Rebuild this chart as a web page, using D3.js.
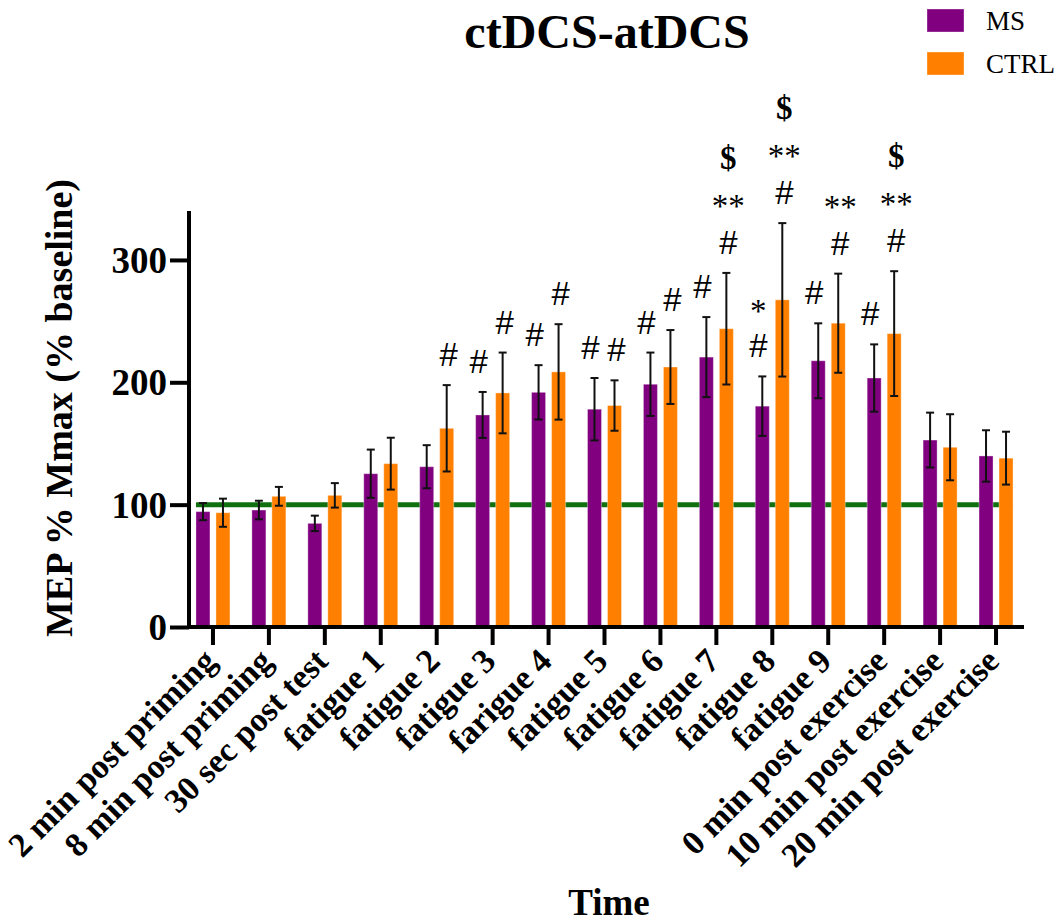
<!DOCTYPE html>
<html>
<head>
<meta charset="utf-8">
<script src="https://cdn.jsdelivr.net/npm/d3@7"></script>
<style>
  html, body { margin: 0; padding: 0; background: #fff; }
  svg { display: block; }
</style>
</head>
<body>
<script>
// ---- data ----
const categories = ["2 min post priming", "8 min post priming", "30 sec post test", "fatigue 1", "fatigue 2",
  "fatigue 3", "farigue 4", "fatigue 5", "fatigue 6", "fatigue 7", "fatigue 8", "fatigue 9",
  "0 min post exercise", "10 min post exercise", "20 min post exercise"];
const seriesNames = ["MS", "CTRL"];
const msMean   = [94.3, 95.6, 84.7, 125.3, 131.0, 173.3, 191.8, 178.0, 198.4, 220.6, 180.5, 217.6, 203.5, 152.8, 139.8];
const msSem    = [7.0, 7.6, 6.3, 19.7, 17.6, 18.8, 22.2, 25.5, 25.9, 32.7, 24.3, 30.6, 27.5, 22.4, 21.0];
const ctrlMean = [93.4, 106.8, 107.6, 133.5, 162.4, 191.3, 208.5, 181.0, 212.5, 243.8, 267.4, 248.3, 239.8, 146.9, 138.0];
const ctrlSem  = [11.5, 7.7, 10.0, 21.2, 35.3, 33.0, 39.0, 20.6, 30.2, 45.6, 62.7, 40.5, 51.0, 27.0, 21.6];
const msMarks   = [[], [], [], [], [], ["#"], ["#"], ["#"], ["#"], ["#"], ["#", "*"], ["#"], ["#"], [], []];
const ctrlMarks = [[], [], [], [], ["#"], ["#"], ["#"], ["#"], ["#"], ["#", "**", "$"], ["#", "**", "$"], ["#", "**"], ["#", "**", "$"], [], []];
const baselineValue = 100;
const yTicks = [0, 100, 200, 300];
const colors = ["#800080", "#ff8000"];
const titleText = "ctDCS-atDCS";
const yLabel = "MEP % Mmax (% baseline)";
const xLabel = "Time";

// ---- layout ----
const W = 1063, H = 922;
const serif = "'Liberation Serif', 'Times New Roman', Times, serif";
const sans = "'Liberation Sans', Arial, Helvetica, sans-serif";

const svg = d3.select("body").append("svg").attr("width", W).attr("height", H);

const x = d3.scaleBand().domain(categories).range([185, 1024]).paddingInner(0).paddingOuter(0);
const x1 = d3.scaleBand().domain(seriesNames).range([-17, 17]).paddingInner(0.3);
const y = d3.scaleLinear().domain([0, 340]).range([627, 211]);

const rows = categories.map((c, i) => ({
  cat: c,
  vals: [
    { s: "MS", mean: msMean[i], sem: msSem[i], marks: msMarks[i], color: colors[0], mdx: -4 },
    { s: "CTRL", mean: ctrlMean[i], sem: ctrlSem[i], marks: ctrlMarks[i], color: colors[1], mdx: 2 }
  ]
}));

const cx = c => x(c) + x.bandwidth() / 2;

// baseline line (behind bars)
svg.append("line")
  .attr("x1", cx(categories[0]) + x1("MS"))
  .attr("x2", cx(categories[categories.length - 1]) + x1("CTRL") + x1.bandwidth())
  .attr("y1", y(baselineValue)).attr("y2", y(baselineValue))
  .attr("stroke", "#107010").attr("stroke-width", 5);

// bars
const g = svg.append("g");
const groups = g.selectAll("g.grp").data(rows).join("g")
  .attr("class", "grp")
  .attr("transform", d => `translate(${cx(d.cat)},0)`);

groups.selectAll("rect").data(d => d.vals).join("rect")
  .attr("x", d => x1(d.s))
  .attr("width", x1.bandwidth())
  .attr("y", d => y(d.mean))
  .attr("height", d => y(0) - y(d.mean))
  .attr("fill", d => d.color)
  .attr("stroke", "rgba(255,255,255,0.35)")
  .attr("stroke-width", 1);

// error bars
const eb = groups.selectAll("g.eb").data(d => d.vals).join("g").attr("class", "eb")
  .attr("transform", d => `translate(${x1(d.s) + x1.bandwidth() / 2},0)`);
eb.append("line").attr("x1", 0).attr("x2", 0)
  .attr("y1", d => y(d.mean + d.sem)).attr("y2", d => y(d.mean - d.sem))
  .attr("stroke", "#111").attr("stroke-width", 2);
eb.append("line").attr("x1", -4).attr("x2", 4)
  .attr("y1", d => y(d.mean + d.sem)).attr("y2", d => y(d.mean + d.sem))
  .attr("stroke", "#111").attr("stroke-width", 2);
eb.append("line").attr("x1", -4).attr("x2", 4)
  .attr("y1", d => y(d.mean - d.sem)).attr("y2", d => y(d.mean - d.sem))
  .attr("stroke", "#111").attr("stroke-width", 2);

// significance marks
const markStyle = {
  "#":  { font: sans, size: 33, weight: "normal", h: 36, base: 12 },
  "*":  { font: serif, size: 33, weight: "normal", h: 38, base: 15 },
  "**": { font: serif, size: 33, weight: "normal", h: 40, base: 15 },
  "$":  { font: serif, size: 33, weight: "bold", h: 44, base: 11 }
};
eb.each(function (d) {
  let cy = y(d.mean + d.sem) - 31;
  const sel = d3.select(this);
  d.marks.forEach((m, k) => {
    const st = markStyle[m];
    if (k > 0) cy -= st.h;
    sel.append("text")
      .attr("x", d.mdx).attr("y", cy + st.base)
      .attr("text-anchor", "middle")
      .attr("font-family", st.font).attr("font-size", st.size).attr("font-weight", st.weight)
      .attr("fill", "#000")
      .text(m);
  });
});

// axes
const yAxis = d3.axisLeft(y).tickValues(yTicks).tickSize(19).tickPadding(3).tickFormat(d3.format("d"));
const ya = svg.append("g").attr("transform", "translate(189,0)").call(yAxis);
ya.select(".domain").remove();
ya.selectAll(".tick line").attr("stroke", "#000").attr("stroke-width", 4);
ya.selectAll(".tick text")
  .attr("font-family", serif).attr("font-weight", "bold").attr("font-size", 37).attr("fill", "#000")
  .attr("dy", "0.34em");
svg.append("line").attr("x1", 189).attr("x2", 189).attr("y1", 211).attr("y2", 629)
  .attr("stroke", "#000").attr("stroke-width", 4);

const xAxis = d3.axisBottom(x).tickSize(18).tickFormat("");
const xa = svg.append("g").attr("transform", "translate(0,627)").call(xAxis);
xa.select(".domain").remove();
xa.selectAll(".tick line").attr("stroke", "#000").attr("stroke-width", 4);
svg.append("line").attr("x1", 187).attr("x2", 1024).attr("y1", 627).attr("y2", 627)
  .attr("stroke", "#000").attr("stroke-width", 4);

// x tick labels, rotated
svg.append("g").selectAll("text").data(categories).join("text")
  .attr("transform", d => `translate(${cx(d) + 5},663) rotate(-45)`)
  .attr("text-anchor", "end")
  .attr("font-family", serif).attr("font-weight", "bold").attr("font-size", 34).attr("fill", "#000")
  .text(d => d);

// title
svg.append("text").attr("x", 607).attr("y", 48).attr("text-anchor", "middle")
  .attr("font-family", serif).attr("font-weight", "bold").attr("font-size", 48).attr("fill", "#000")
  .text(titleText);

// y label
svg.append("text").attr("transform", "translate(72,408) rotate(-90)").attr("text-anchor", "middle")
  .attr("font-family", serif).attr("font-weight", "bold").attr("font-size", 38).attr("fill", "#000")
  .text(yLabel);

// x label
svg.append("text").attr("x", 609).attr("y", 915).attr("text-anchor", "middle")
  .attr("font-family", serif).attr("font-weight", "bold").attr("font-size", 37).attr("fill", "#000")
  .text(xLabel);

// legend
const lg = svg.append("g").selectAll("g").data(seriesNames).join("g")
  .attr("transform", (d, i) => `translate(927,${9 + i * 43})`);
lg.append("rect").attr("width", 37).attr("height", 23).attr("fill", (d, i) => colors[i])
  .attr("stroke", "rgba(255,255,255,0.35)").attr("stroke-width", 1);
lg.append("text").attr("x", 59).attr("y", 21)
  .attr("font-family", serif).attr("font-size", 27).attr("fill", "#000")
  .text(d => d);
</script>
</body>
</html>
